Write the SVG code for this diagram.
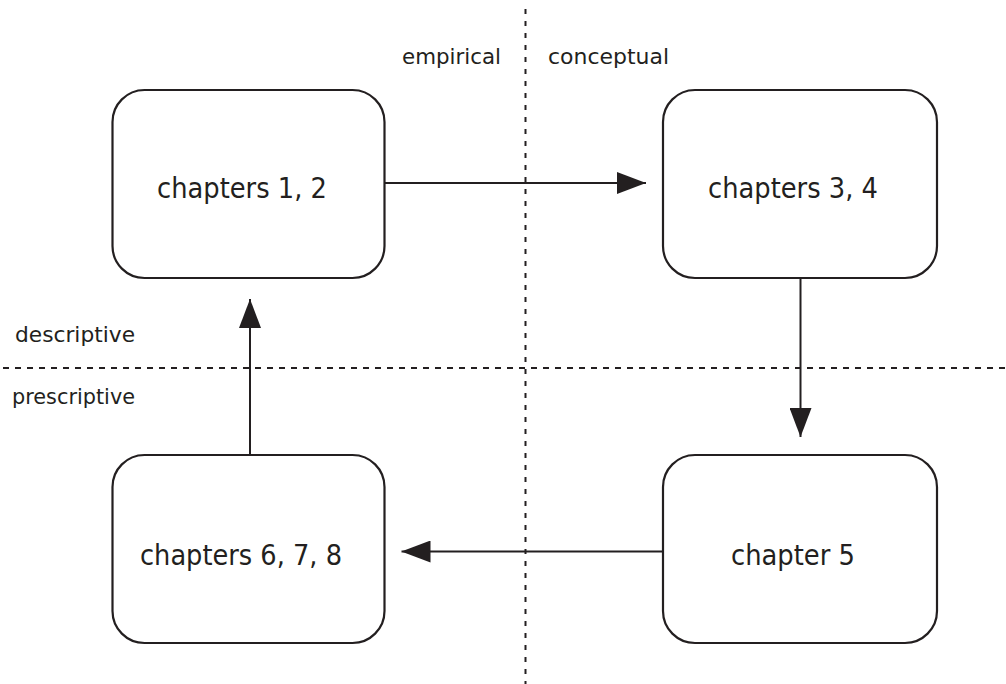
<svg xmlns="http://www.w3.org/2000/svg" width="1006" height="684" viewBox="0 0 1006 684">
  <style>
    .node rect { fill: #ffffff; stroke: #231f20; stroke-width: 2.2; }
    .node text { font-family: "DejaVu Sans", "Liberation Sans", sans-serif; font-size: 28px; fill: #231f20; }
    .axis { stroke: #231f20; stroke-width: 2; fill: none; }
    .axis-h { stroke-dasharray: 6 6; }
    .axis-v { stroke-dasharray: 5 7; }
    .label { font-family: "DejaVu Sans", "Liberation Sans", sans-serif; font-size: 21px; fill: #231f20; }
    .edge { stroke: #231f20; stroke-width: 2; fill: none; marker-end: url(#arrow); }
  </style>
  <defs>
    <marker id="arrow" markerWidth="29" markerHeight="22" refX="29" refY="11" orient="auto" markerUnits="userSpaceOnUse">
      <path d="M0,0 L29,11 L0,22 Z" fill="#231f20"/>
    </marker>
  </defs>
  <rect width="1006" height="684" fill="#ffffff"/>

  <!-- quadrant axes -->
  <g id="axes">
    <line class="axis axis-v" x1="525.5" y1="9" x2="525.5" y2="684"/>
    <line class="axis axis-h" x1="3" y1="368" x2="1006" y2="368"/>
    <text class="label" x="402" y="63.5" textLength="99" lengthAdjust="spacingAndGlyphs">empirical</text>
    <text class="label" x="548" y="63.5" textLength="121" lengthAdjust="spacingAndGlyphs">conceptual</text>
    <text class="label" x="15" y="341.5" textLength="120" lengthAdjust="spacingAndGlyphs">descriptive</text>
    <text class="label" x="12" y="404" textLength="123" lengthAdjust="spacingAndGlyphs">prescriptive</text>
  </g>

  <!-- connectors -->
  <g id="connectors">
    <line class="edge" x1="385" y1="183" x2="646" y2="183"/>
    <line class="edge" x1="800.5" y1="278" x2="800.5" y2="437"/>
    <line class="edge" x1="663" y1="551.5" x2="401.5" y2="551.5"/>
    <line class="edge" x1="250" y1="455" x2="250" y2="299"/>
  </g>

  <!-- nodes -->
  <g id="node-ch12" class="node">
    <rect x="112.5" y="90" width="272" height="188" rx="32" ry="32"/>
    <text x="157" y="197.5" textLength="170" lengthAdjust="spacingAndGlyphs">chapters 1, 2</text>
  </g>
  <g id="node-ch34" class="node">
    <rect x="663" y="90" width="274" height="188" rx="32" ry="32"/>
    <text x="708" y="197.5" textLength="170" lengthAdjust="spacingAndGlyphs">chapters 3, 4</text>
  </g>
  <g id="node-ch5" class="node">
    <rect x="663" y="455" width="274" height="188" rx="32" ry="32"/>
    <text x="731" y="565" textLength="124" lengthAdjust="spacingAndGlyphs">chapter 5</text>
  </g>
  <g id="node-ch678" class="node">
    <rect x="112.5" y="455" width="272" height="188" rx="32" ry="32"/>
    <text x="140" y="565" textLength="202" lengthAdjust="spacingAndGlyphs">chapters 6, 7, 8</text>
  </g>
</svg>
